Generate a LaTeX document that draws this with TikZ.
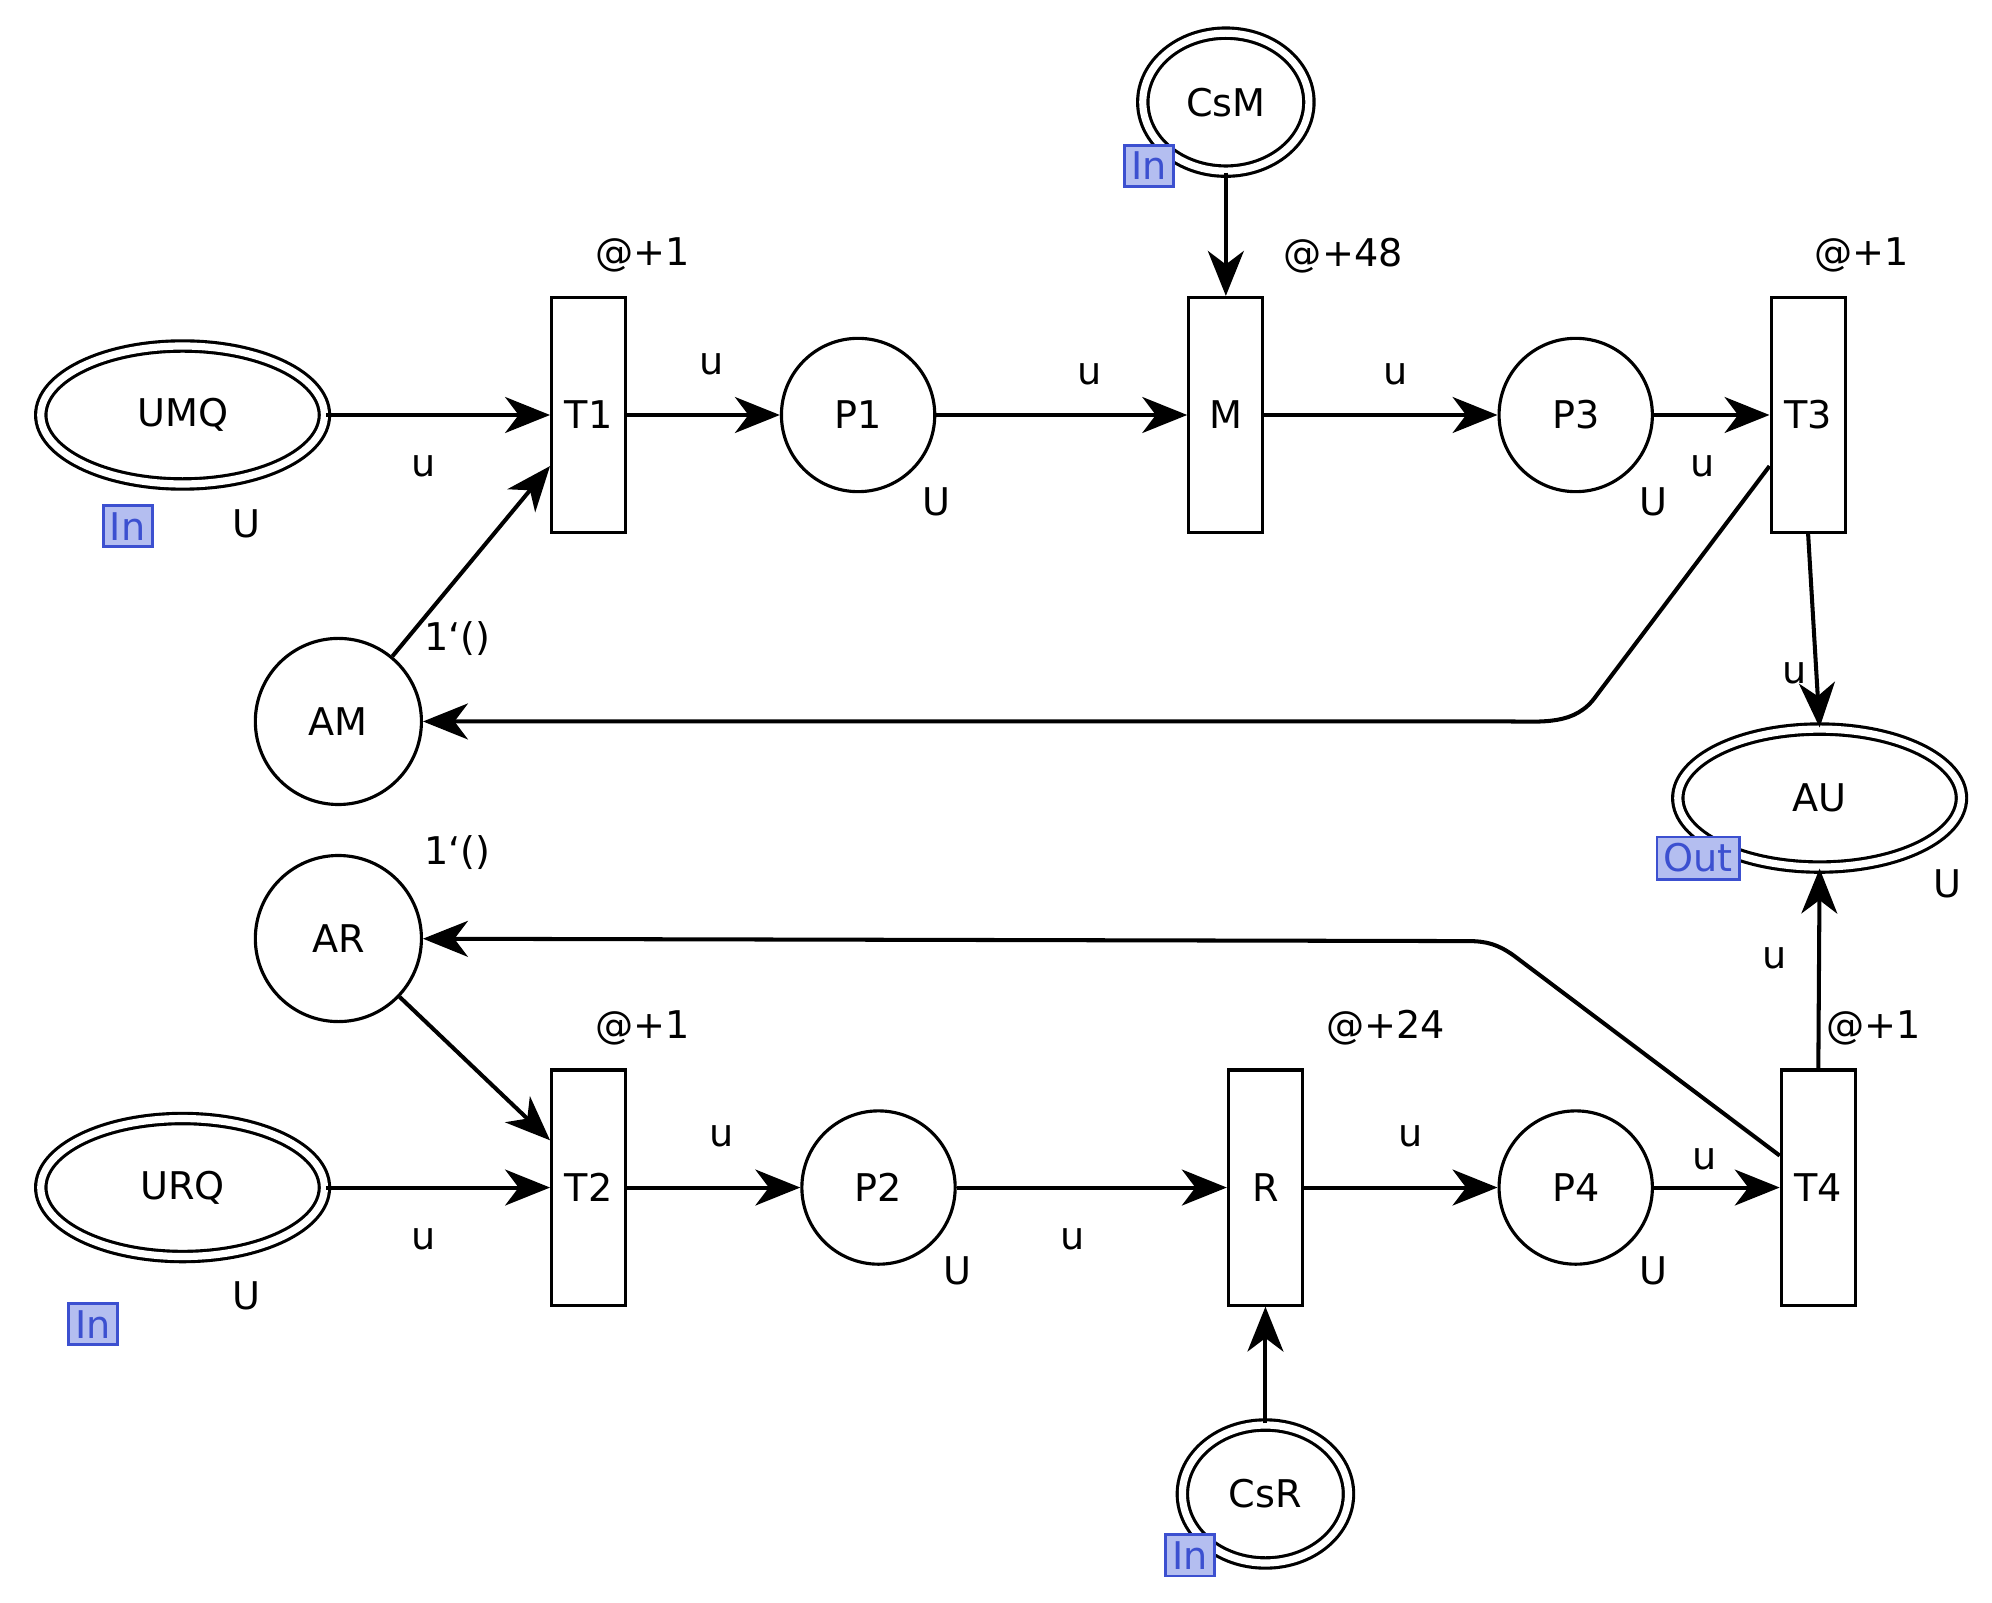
\documentclass[tikz,border=0pt]{standalone}
\usepackage{fontspec}
\setmainfont{DejaVu Sans}
\usetikzlibrary{arrows.meta,shapes.geometric}
\definecolor{portfill}{HTML}{B4BEF0}
\definecolor{portline}{HTML}{3C50D0}
\begin{document}
\begin{tikzpicture}[x=0.01cm,y=-0.01cm,font=\fontsize{8.5}{10}\selectfont,
  place/.style={circle,draw,line width=0.7pt,minimum size=1.2cm,inner sep=0},
  port/.style={ellipse,draw,double,double distance=1.6pt,line width=0.7pt,inner sep=0},
  trans/.style={rectangle,draw,line width=0.7pt,minimum width=0.58cm,minimum height=1.84cm,inner sep=0},
  tag/.style={draw=portline,fill=portfill,text=portline,inner sep=1.5pt,line width=0.6pt},
  arc/.style={draw,line width=0.9pt,-{Stealth[length=10pt,width=8pt,inset=3pt]}},
  lbl/.style={inner sep=0}]
\useasboundingbox (0,0) rectangle (1560,1255);
\node[port,minimum width=2.22cm,minimum height=1.08cm] (UMQ) at (143,325) {UMQ};
\node[trans] (T1) at (461,325) {T1};
\node[place] (P1) at (672,325) {P1};
\node[trans] (M) at (960,325) {M};
\node[place] (P3) at (1234,325) {P3};
\node[trans] (T3) at (1416,325) {T3};
\node[port,minimum width=1.3cm,minimum height=1.08cm] (CsM) at (960,80) {CsM};
\node[place,minimum size=1.3cm] (AM) at (265,565) {AM};
\node[port,minimum width=2.22cm,minimum height=1.08cm] (AU) at (1425,625) {AU};
\node[place,minimum size=1.3cm] (AR) at (265,735) {AR};
\node[port,minimum width=2.22cm,minimum height=1.08cm] (URQ) at (143,930) {URQ};
\node[trans] (T2) at (461,930) {T2};
\node[place] (P2) at (688,930) {P2};
\node[trans] (R) at (991,930) {R};
\node[place] (P4) at (1234,930) {P4};
\node[trans] (T4) at (1424,930) {T4};
\node[port,minimum width=1.3cm,minimum height=1.08cm] (CsR) at (991,1170) {CsR};

\node[tag] (i1) at (900,130) {In};
\node[tag] (i2) at (100,412) {In};
\node[tag] (i3) at (73,1037) {In};
\node[tag] (i4) at (932,1218) {In};
\node[tag] (o1) at (1330,672) {Out};

\foreach \n/\t/\x/\y in {a1/@+1/503/200,a2/@+48/1052/200,a3/@+1/1458/200,a4/@+1/503/805,a5/@+24/1085/805,a6/@+1/1467/805,
  u1/u/332/365,u2/u/557/285,u3/u/853/293,u4/u/1093/293,u5/u/1333/365,u6/u/1405/527,u7/u/1390/750,u8/u/332/970,u9/u/565/890,u10/u/840/970,u11/u/1105/890,u12/u/1335/908,
  U1/U/193/410,U2/U/733/393,U3/U/1295/393,U4/U/1525/692,U5/U/193/1015,U6/U/750/995,U7/U/1295/995,
  m1/1`()/358/500,m2/1`()/358/668}
  \node[lbl] (\n) at (\x,\y) {\t};

\draw[arc] (UMQ) -- (T1);
\draw[arc] (T1) -- (P1);
\draw[arc] (P1) -- (M);
\draw[arc] (M) -- (P3);
\draw[arc] (P3) -- (T3);
\draw[arc] (CsM) -- (M);
\draw[arc] (AM) -- (T1.west |- 0,365);
\draw[arc] (T3.west |- 0,365) -- (1250,545) to[out=-125,in=0] (1180,565) -- (AM);
\draw[arc] (T3.south) -- (AU.north);
\draw[arc] (T4.north) -- (AU.south);
\draw[arc] (T4.west |- 0,905) -- (1185,748) to[out=145,in=0] (1150,737) -- (AR);
\draw[arc] (AR) -- (T2.west |- 0,893);
\draw[arc] (URQ) -- (T2);
\draw[arc] (T2) -- (P2);
\draw[arc] (P2) -- (R);
\draw[arc] (R) -- (P4);
\draw[arc] (P4) -- (T4);
\draw[arc] (CsR) -- (R);
\end{tikzpicture}
\end{document}
